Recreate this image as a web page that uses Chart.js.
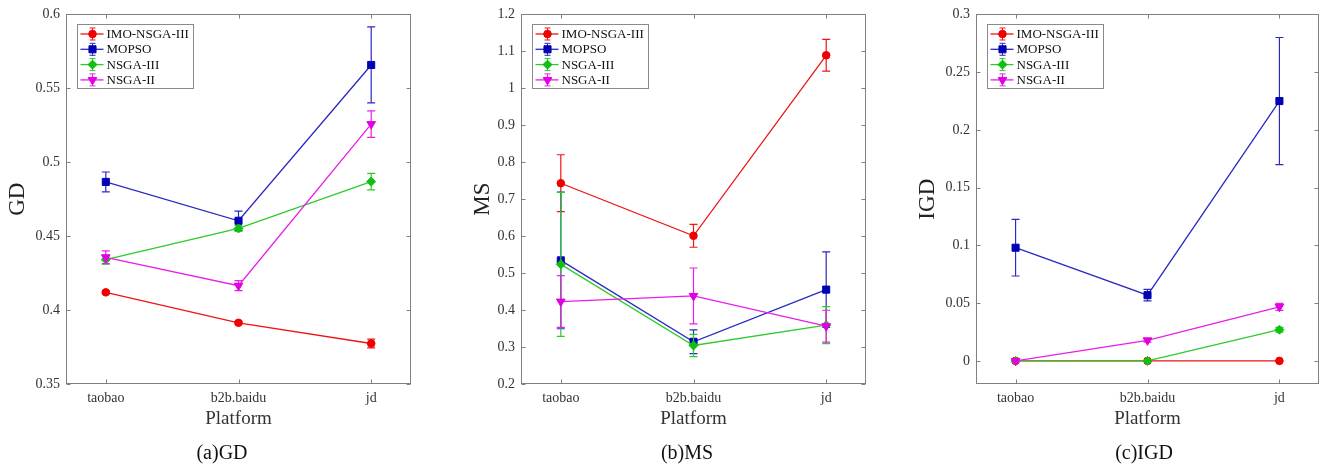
<!DOCTYPE html>
<html>
<head>
<meta charset="utf-8">
<script src="https://cdn.jsdelivr.net/npm/chart.js@4.4.0/dist/chart.umd.min.js"></script>
<style>
  body { margin: 0; background: #fff; width: 1325px; height: 469px; position: relative; overflow: hidden; }
  .panel { position: absolute; top: 0; height: 469px; }
  .cap { position: absolute; top: 441px; font: 20px 'Liberation Serif', 'Times New Roman', serif; color: #111; transform: translateX(-50%); white-space: nowrap; }
</style>
</head>
<body>
<div class="panel" style="left:0;width:430px"><canvas id="gdChart"></canvas></div>
<div class="panel" style="left:465px;width:420px"><canvas id="msChart"></canvas></div>
<div class="panel" style="left:910px;width:415px"><canvas id="igdChart"></canvas></div>
<div class="cap" style="left:222px">(a)GD</div>
<div class="cap" style="left:687px">(b)MS</div>
<div class="cap" style="left:1144px">(c)IGD</div>
<script>
// データ
const platforms = ['taobao', 'b2b.baidu', 'jd'];
const algorithms = ['IMO-NSGA-III', 'MOPSO', 'NSGA-III', 'NSGA-II'];

// 平均値 [アルゴリズム][プラットフォーム]
const gdMean = [
  [0.412, 0.3914, 0.3774],
  [0.4867, 0.4604, 0.5658],
  [0.4341, 0.4552, 0.4869],
  [0.4357, 0.4165, 0.5258],
];
const gdErr = [
  [0.001, 0.001, 0.003],
  [0.0067, 0.0065, 0.0257],
  [0.003, 0.002, 0.0056],
  [0.0043, 0.0034, 0.009],
];
const msMean = [
  [0.7432, 0.601, 1.0894],
  [0.5345, 0.3142, 0.4554],
  [0.5237, 0.3043, 0.3592],
  [0.423, 0.4383, 0.3565],
];
const msErr = [
  [0.077, 0.031, 0.043],
  [0.185, 0.032, 0.102],
  [0.195, 0.03, 0.05],
  [0.07, 0.0755, 0.043],
];
const igdMean = [
  [0, 0, 0],
  [0.098, 0.0569, 0.225],
  [0, 0, 0.027],
  [0, 0.0178, 0.0468],
];
const igdErr = [
  [0, 0, 0],
  [0.0245, 0.005, 0.055],
  [0, 0, 0.002],
  [0.001, 0.0015, 0.003],
];

const gdTicks = [0.35, 0.4, 0.45, 0.5, 0.55, 0.6];
const msTicks = [0.2, 0.3, 0.4, 0.5, 0.6, 0.7, 0.8, 0.9, 1, 1.1, 1.2];
const igdTicks = [0, 0.05, 0.1, 0.15, 0.2, 0.25, 0.3];

const lineColors = ['#f01414', '#2a2ac4', '#2ccc2c', '#e81ee8'];
const markerColors = ['#f00000', '#0000b4', '#10c010', '#e000e0'];
const pointStyles = ['circle', 'rect', 'rectRot', 'triangle'];
const pointRadii = [3.8, 5, 4.5, 5];
const pointRotations = [0, 0, 0, 180];

const FONT = "'Liberation Serif', 'Times New Roman', serif";
const BOX = '#808080';

/**
 * 誤差棒・枠・内向き目盛り・凡例を描くプラグイン
 */
const matlabPlugin = {
  id: 'matlab',
  beforeDatasetDraw(chart, args) {
    const ds = chart.data.datasets[args.index];
    if (!ds.err) return;
    const ctx = chart.ctx;
    const y = chart.scales.y;
    const area = chart.chartArea;
    ctx.save();
    ctx.beginPath();
    ctx.rect(area.left, area.top, area.right - area.left, area.bottom - area.top);
    ctx.clip();
    ctx.strokeStyle = ds.borderColor;
    ctx.lineWidth = 1.2;
    args.meta.data.forEach((pt, i) => {
      const e = ds.err[i];
      if (!e) return;
      const v = ds.data[i].y;
      const yt = y.getPixelForValue(v + e);
      const yb = y.getPixelForValue(v - e);
      ctx.beginPath();
      ctx.moveTo(pt.x, yt); ctx.lineTo(pt.x, yb);
      ctx.moveTo(pt.x - 4, yt); ctx.lineTo(pt.x + 4, yt);
      ctx.moveTo(pt.x - 4, yb); ctx.lineTo(pt.x + 4, yb);
      ctx.stroke();
    });
    ctx.restore();
  },
  afterDraw(chart, args, opts) {
    const ctx = chart.ctx;
    const a = chart.chartArea;
    const xs = chart.scales.x;
    const ys = chart.scales.y;
    const L = Math.round(a.left) + 0.5, R = Math.round(a.right) - 0.5;
    const T = Math.round(a.top) + 0.5, B = Math.round(a.bottom) - 0.5;
    ctx.save();
    ctx.strokeStyle = BOX;
    ctx.lineWidth = 1;
    ctx.strokeRect(L, T, R - L, B - T);
    ctx.beginPath();
    ys.ticks.forEach(t => {
      const py = Math.round(ys.getPixelForValue(t.value)) + 0.5;
      ctx.moveTo(L, py); ctx.lineTo(L + 4, py);
      ctx.moveTo(R, py); ctx.lineTo(R - 4, py);
    });
    xs.ticks.forEach(t => {
      const px = Math.round(xs.getPixelForValue(t.value)) + 0.5;
      ctx.moveTo(px, B); ctx.lineTo(px, B - 4);
      ctx.moveTo(px, T); ctx.lineTo(px, T + 4);
    });
    ctx.stroke();

    // 凡例
    const bx = Math.round(a.left) + 11.5, by = Math.round(a.top) + 10.5;
    const bw = 116, bh = 64;
    ctx.fillStyle = '#fff';
    ctx.fillRect(bx, by, bw, bh);
    ctx.strokeStyle = '#8a8a8a';
    ctx.strokeRect(bx, by, bw, bh);
    ctx.font = '13px ' + FONT;
    ctx.textBaseline = 'middle';
    ctx.textAlign = 'left';
    chart.data.datasets.forEach((ds, i) => {
      const ry = by + 9.5 + i * 15.3;
      const mx = bx + 15;
      ctx.strokeStyle = ds.borderColor;
      ctx.lineWidth = 1.3;
      ctx.beginPath();
      ctx.moveTo(bx + 3, ry); ctx.lineTo(bx + 26, ry);
      ctx.stroke();
      ctx.lineWidth = 1;
      ctx.beginPath();
      ctx.moveTo(mx, ry - 6); ctx.lineTo(mx, ry + 6);
      ctx.moveTo(mx - 3, ry - 6); ctx.lineTo(mx + 3, ry - 6);
      ctx.moveTo(mx - 3, ry + 6); ctx.lineTo(mx + 3, ry + 6);
      ctx.stroke();
      ctx.fillStyle = ds.pointBackgroundColor;
      ctx.strokeStyle = ds.pointBorderColor;
      Chart.helpers.drawPoint(ctx, {
        pointStyle: ds.pointStyle,
        radius: ds.pointRadius,
        rotation: ds.pointRotation,
        borderWidth: 1,
      }, mx, ry);
      ctx.fillStyle = '#111';
      ctx.fillText(ds.label, bx + 29, ry + 0.5);
    });
    ctx.restore();
  },
};

function buildDatasets(means, errs) {
  return algorithms.map((name, i) => ({
    label: name,
    data: platforms.map((p, j) => ({ x: j + 1, y: means[i][j] })),
    err: errs[i],
    borderColor: lineColors[i],
    borderWidth: 1.3,
    pointStyle: pointStyles[i],
    pointRadius: pointRadii[i],
    pointRotation: pointRotations[i],
    pointBackgroundColor: markerColors[i],
    pointBorderColor: markerColors[i],
    pointBorderWidth: 1,
    tension: 0,
    fill: false,
    order: algorithms.length - i,
  }));
}

function renderPanel(canvasId, title, means, errs, yMin, yMax, yTicks, yWidth, padRight) {
  const ctx = document.getElementById(canvasId).getContext('2d');
  return new Chart(ctx, {
    type: 'line',
    data: { datasets: buildDatasets(means, errs) },
    plugins: [matlabPlugin],
    options: {
      responsive: true,
      maintainAspectRatio: false,
      animation: false,
      layout: { padding: { left: 0, right: padRight, top: 13, bottom: 39 } },
      scales: {
        x: {
          type: 'linear',
          min: 0.7,
          max: 3.3,
          afterBuildTicks: s => { s.ticks = platforms.map((p, j) => ({ value: j + 1 })); },
          afterFit: s => { s.height = 46; },
          grid: { display: false, drawTicks: false },
          border: { display: false },
          ticks: {
            padding: 6,
            color: '#333',
            font: { family: FONT, size: 14 },
            callback: v => platforms[v - 1],
            maxRotation: 0,
          },
          title: {
            display: true,
            text: 'Platform',
            color: '#333',
            font: { family: FONT, size: 19 },
            padding: { top: 0, bottom: 0 },
          },
        },
        y: {
          min: yMin,
          max: yMax,
          afterBuildTicks: s => { s.ticks = yTicks.map(v => ({ value: v })); },
          afterFit: s => { s.width = yWidth; },
          grid: { display: false, drawTicks: false },
          border: { display: false },
          ticks: {
            padding: 6,
            color: '#333',
            font: { family: FONT, size: 14 },
            callback: v => String(v),
          },
          title: {
            display: true,
            text: title,
            color: '#222',
            font: { family: FONT, size: 23 },
            padding: { top: 4, bottom: 0 },
          },
        },
      },
      plugins: {
        legend: { display: false },
        tooltip: { enabled: false },
      },
    },
  });
}

renderPanel('gdChart', 'GD', gdMean, gdErr, 0.35, 0.6, gdTicks, 66, 19);
renderPanel('msChart', 'MS', msMean, msErr, 0.2, 1.2, msTicks, 56, 19);
renderPanel('igdChart', 'IGD', igdMean, igdErr, -0.02, 0.3, igdTicks, 66, 4);
</script>
</body>
</html>
